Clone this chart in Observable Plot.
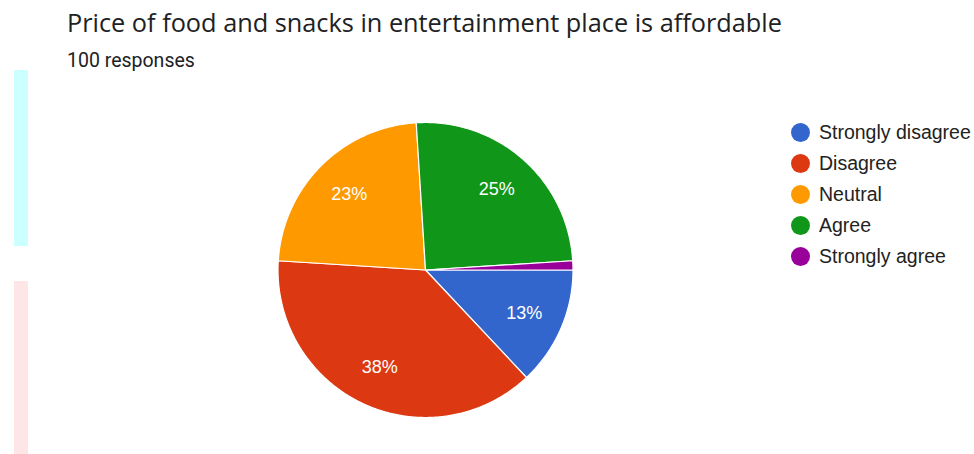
<!DOCTYPE html>
<html>
<head>
<meta charset="utf-8">
<script src="https://cdn.jsdelivr.net/npm/d3@7"></script>
<script src="https://cdn.jsdelivr.net/npm/@observablehq/plot@0.6"></script>
<style>
  html, body { margin: 0; padding: 0; background: #fff; }
  body { width: 974px; height: 454px; position: relative; overflow: hidden; }
  #title { position: absolute; left: 67px; top: 4px; font-family: "Open Sans", Roboto, sans-serif; font-size: 25.3px; line-height: 36px; color: #202124; white-space: nowrap; }
  #sub { position: absolute; left: 67px; top: 48px; font-family: Roboto, sans-serif; font-size: 19.5px; line-height: 26px; color: #202124; white-space: nowrap; }
  #chart { position: absolute; left: 0; top: 100px; }
  .art1 { position: absolute; left: 14px; top: 70px; width: 14px; height: 176px; background: #ccffff; }
  .art2 { position: absolute; left: 14px; top: 281px; width: 14px; height: 173px; background: #ffe6e6; }
  #legend { position: absolute; left: 791px; top: 116.5px; font-family: "Liberation Sans", Arial, sans-serif; font-size: 19.5px; color: #222; }
  .item { display: flex; align-items: center; height: 31.2px; white-space: nowrap; }
  .sw { width: 19px; height: 19px; border-radius: 50%; margin-right: 9px; flex: none; }
</style>
</head>
<body>
<div class="art1"></div>
<div class="art2"></div>
<div id="title">Price of food and snacks in entertainment place is affordable</div>
<div id="sub">100 responses</div>
<div id="chart"></div>
<div id="legend"></div>
<script>
const categories = ["Strongly disagree", "Disagree", "Neutral", "Agree", "Strongly agree"];
const counts = [13, 38, 23, 25, 1];
const colors = ["#3366cc", "#dc3912", "#ff9900", "#109618", "#990099"];

const total = d3.sum(counts);
const data = categories.map((c, i) => ({cat: c, value: counts[i]}));
const arcs = d3.pie().sort(null).value(d => d.value)
  .startAngle(Math.PI / 2).endAngle(Math.PI / 2 + 2 * Math.PI)(data);

// polygon outline of each slice (angle clockwise from 12 o'clock)
const pts = [];
for (const a of arcs) {
  const cat = a.data.cat;
  pts.push({cat, x: 0, y: 0});
  const n = Math.max(2, Math.ceil((a.endAngle - a.startAngle) / (Math.PI / 360)));
  for (let k = 0; k <= n; k++) {
    const t = a.startAngle + (a.endAngle - a.startAngle) * k / n;
    pts.push({cat, x: Math.sin(t), y: Math.cos(t)});
  }
  pts.push({cat, x: 0, y: 0});
}
const labels = arcs.filter(a => a.data.value / total >= 0.05).map(a => {
  const m = (a.startAngle + a.endAngle) / 2, r = 0.73;
  return {x: Math.sin(m) * r, y: Math.cos(m) * r, text: Math.round(a.data.value / total * 100) + "%"};
});

const W = 974, H = 354, R = 147.5, cx = 425, cy = 169.5;
const chart = Plot.plot({
  width: W, height: H,
  margin: 0,
  x: {domain: [-cx / R, (W - cx) / R], axis: null},
  y: {domain: [-(H - cy) / R, cy / R], axis: null},
  color: {domain: categories, range: colors},
  style: {background: "transparent", overflow: "visible"},
  marks: [
    Plot.line(pts, {x: "x", y: "y", z: "cat", fill: "cat", stroke: "white", strokeWidth: 1.2, curve: "linear"}),
    Plot.text(labels, {x: "x", y: "y", text: "text", fill: "white", fontSize: 18, fontFamily: "Liberation Sans, Arial, sans-serif"})
  ]
});
document.getElementById("chart").appendChild(chart);

const legend = document.getElementById("legend");
categories.forEach((c, i) => {
  const it = document.createElement("div");
  it.className = "item";
  it.innerHTML = `<span class="sw" style="background:${colors[i]}"></span><span>${c}</span>`;
  legend.appendChild(it);
});
</script>
</body>
</html>
